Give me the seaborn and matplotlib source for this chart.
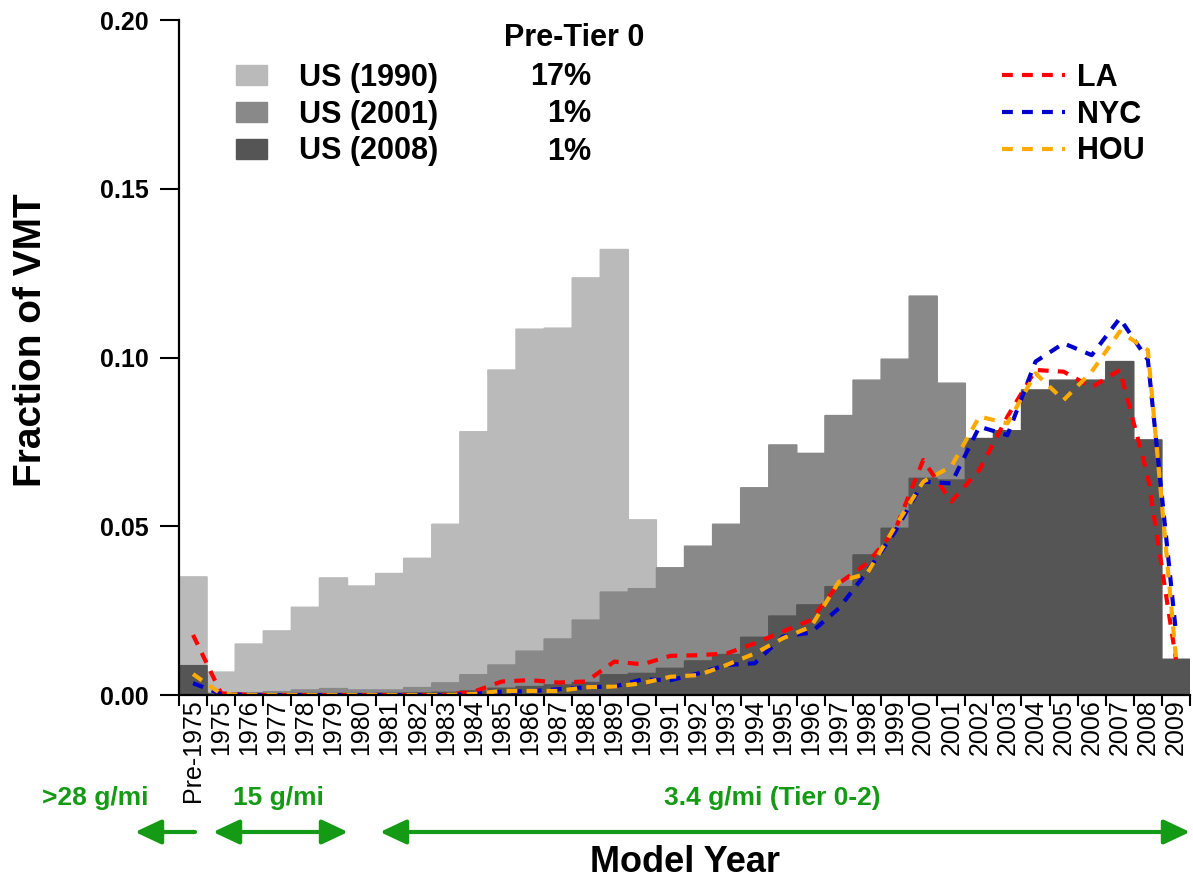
import numpy as np
import pandas as pd
import matplotlib
matplotlib.use("Agg")
import matplotlib.pyplot as plt
from matplotlib.patches import FancyArrowPatch
import seaborn as sns

# Model-year categories
model_years = ["Pre-1975"] + [str(y) for y in range(1975, 2010)]

# Fraction of VMT by model year, national fleet in three survey years
us_1990 = [0.035, 0.0068, 0.0151, 0.019, 0.026, 0.0347, 0.0323, 0.036, 0.0405,
           0.0506, 0.078, 0.0963, 0.1084, 0.1087, 0.1236, 0.132, 0.0519,
           0, 0, 0, 0, 0, 0, 0, 0, 0, 0, 0, 0, 0, 0, 0, 0, 0, 0, 0]
us_2001 = [0.006, 0.0005, 0.0007, 0.001, 0.0015, 0.0019, 0.0015, 0.0015, 0.0022,
           0.0036, 0.006, 0.0089, 0.013, 0.0166, 0.0222, 0.0305, 0.0315,
           0.0377, 0.0441, 0.0506, 0.0614, 0.0741, 0.0716, 0.0828, 0.0933,
           0.0995, 0.1182, 0.0924, 0, 0, 0, 0, 0, 0, 0, 0]
us_2008 = [0.0087, 0.0003, 0.0003, 0.0003, 0.0004, 0.0004, 0.0004, 0.0005, 0.0006,
           0.0008, 0.0012, 0.002, 0.0025, 0.003, 0.0037, 0.006, 0.0064,
           0.0079, 0.0101, 0.012, 0.0171, 0.0234, 0.0267, 0.0321, 0.0415,
           0.0494, 0.0642, 0.0637, 0.076, 0.0783, 0.0904, 0.0933, 0.0933,
           0.0988, 0.0756, 0.0106]

# City fleets
la = [0.0178, 0.0005, 0, 0, 0, 0, 0, 0, 0, 0, 0.001, 0.004, 0.0044, 0.0037,
      0.004, 0.0099, 0.0091, 0.0116, 0.0118, 0.0123, 0.0153, 0.0188, 0.0222,
      0.0331, 0.039, 0.0489, 0.0696, 0.0573, 0.0667, 0.0825, 0.0963, 0.0958,
      0.0912, 0.0963, 0.0647, 0.0105]
nyc = [0.0035, 0.0003, 0, 0, 0, 0, 0, 0, 0, 0, 0.0003, 0.001, 0.0011, 0.0017,
       0.0023, 0.0025, 0.0046, 0.0044, 0.0064, 0.0089, 0.0094, 0.0173, 0.0185,
       0.0257, 0.0365, 0.0484, 0.0632, 0.0627, 0.0795, 0.077, 0.0988, 0.1042,
       0.1007, 0.1116, 0.0993, 0.0185]
hou = [0.0062, 0.0003, 0, 0, 0, 0, 0, 0, 0, 0, 0.0003, 0.0012, 0.0012, 0.0012,
       0.0023, 0.0025, 0.0035, 0.0054, 0.0059, 0.0089, 0.0123, 0.0168, 0.0202,
       0.0336, 0.036, 0.0499, 0.0632, 0.0677, 0.0825, 0.0805, 0.0953, 0.0874,
       0.0958, 0.1077, 0.1022, 0.011]

survey_labels = ["US (1990)", "US (2001)", "US (2008)"]
pre_tier0 = ["17%", "1%", "1%"]
city_labels = ["LA", "NYC", "HOU"]

bar_colors = ["#bababa", "#898989", "#555555"]
line_colors = ["#ff0000", "#0000cc", "#ffaa00"]
green = "#149a14"

sns.set_style("ticks")
plt.rcParams["font.family"] = ["Liberation Sans", "DejaVu Sans"]
plt.rcParams.update({"text.color": "black", "axes.labelcolor": "black",
                     "xtick.color": "black", "ytick.color": "black"})

fig = plt.figure(figsize=(11.93, 8.88), dpi=100)
ax = fig.add_axes([179 / 1193, 1 - 695 / 888, 1011 / 1193, 675 / 888])

bars_df = pd.DataFrame({"year": model_years, "US (1990)": us_1990,
                        "US (2001)": us_2001, "US (2008)": us_2008})
for lab, col in zip(survey_labels, bar_colors):
    sns.barplot(data=bars_df, x="year", y=lab, order=model_years, color=col,
                width=1.0, saturation=1, errorbar=None, linewidth=1.0,
                edgecolor=col, label=lab, ax=ax)
for p in ax.patches:
    p.set_snap(False)

xpos = np.arange(len(model_years))
for lab, vals, col in zip(city_labels, [la, nyc, hou], line_colors):
    sns.lineplot(x=xpos, y=vals, color=col, linewidth=3.0,
                 linestyle=(0, (2.6, 2.2)), label=lab, ax=ax)

ax.set_xlim(-0.5, len(model_years) - 0.5)
ax.set_ylim(0, 0.20)
ax.set_yticks([0, 0.05, 0.10, 0.15, 0.20])
ax.set_yticklabels([f"{v:.2f}" for v in [0, 0.05, 0.10, 0.15, 0.20]],
                   fontsize=18, fontweight="bold")
ax.set_xticks(xpos)
ax.set_xticklabels(model_years, rotation=90, fontsize=18)
ax.set_xticks(np.arange(-0.5, len(model_years)), minor=True)
ax.tick_params(axis="x", which="major", length=0, pad=3)
ax.tick_params(axis="x", which="minor", length=8, width=1.5, color="black")
ax.tick_params(axis="y", length=14, width=1.5, color="black", pad=8)
sns.despine(ax=ax)
for s in ["left", "bottom"]:
    ax.spines[s].set_linewidth(1.6)
    ax.spines[s].set_color("black")

ax.set_ylabel("Fraction of VMT", fontsize=28, fontweight="bold")
ax.yaxis.label.set(va="center", ha="center")
ax.yaxis.set_label_coords(-0.146, 0.526)
ax.set_xlabel("Model Year", fontsize=26, fontweight="bold")
ax.xaxis.set_label_coords(0.5, -0.222)

# Legends: survey bars on the left, city lines on the right
handles, labels = ax.get_legend_handles_labels()
hmap = dict(zip(labels, handles))
if ax.get_legend() is not None:
    ax.get_legend().remove()
leg1 = fig.legend([hmap[l] for l in survey_labels], survey_labels,
                  loc="upper left", bbox_to_anchor=(236 / 1193, 1 - 63 / 888),
                  frameon=False, prop={"weight": "bold", "size": 22},
                  handlelength=1.0, handleheight=0.65, handletextpad=1.05,
                  labelspacing=0.22, borderpad=0, borderaxespad=0,
                  labelcolor="black")
leg2 = fig.legend([hmap[l] for l in city_labels], city_labels,
                  loc="upper left", bbox_to_anchor=(1002 / 1193, 1 - 63 / 888),
                  frameon=False, prop={"weight": "bold", "size": 22},
                  handlelength=2.05, handletextpad=0.42,
                  labelspacing=0.22, borderpad=0, borderaxespad=0,
                  labelcolor="black")

fig.text(574 / 1193, 1 - 38 / 888, "Pre-Tier 0", ha="center", va="center",
         fontsize=22, fontweight="bold")
for i, pct in enumerate(pre_tier0):
    fig.text(591 / 1193, 1 - (77 + 37.5 * i) / 888, pct, ha="right",
             va="center", fontsize=22, fontweight="bold")

# Emission-standard bands below the axis
for txt, xc in [(">28 g/mi", 95), ("15 g/mi", 278), ("3.4 g/mi (Tier 0-2)", 772)]:
    fig.text(xc / 1193, 1 - 798 / 888, txt, ha="center", va="center",
             fontsize=19, fontweight="bold", color=green)

ay = 1 - 832 / 888
for x0, x1, style in [(195, 135, "-|>"), (213, 348, "<|-|>"), (380, 1190, "<|-|>")]:
    arr = FancyArrowPatch((x0 / 1193, ay), (x1 / 1193, ay),
                          transform=fig.transFigure, arrowstyle=style,
                          mutation_scale=1, shrinkA=0, shrinkB=0,
                          color=green, lw=3)
    arr.set_arrowstyle(style, head_length=16, head_width=7.5)
    fig.patches.append(arr)

fig.savefig("out.png", dpi=100)
